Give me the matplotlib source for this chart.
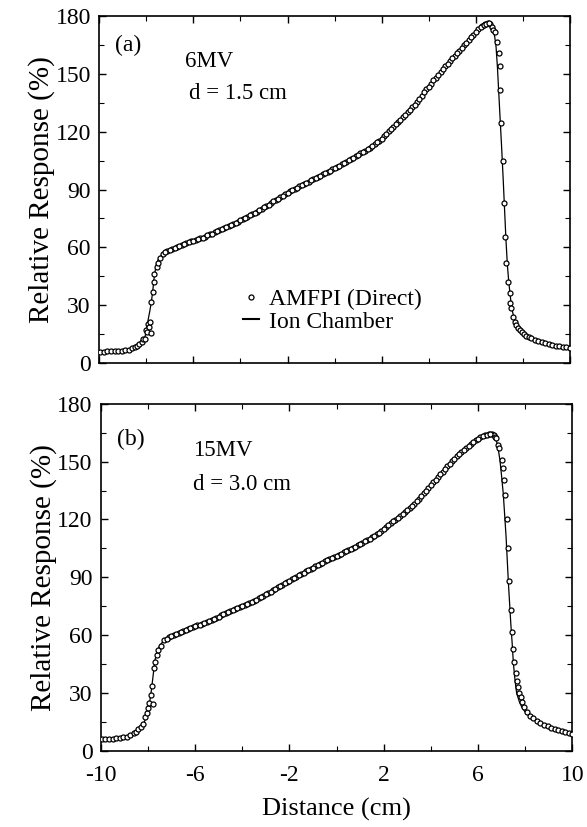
import numpy as np
import matplotlib
matplotlib.use("Agg")
import matplotlib.pyplot as plt
from matplotlib.lines import Line2D
from matplotlib.ticker import MultipleLocator

# ---------------- data: (a) 6MV, d = 1.5 cm ----------------
ion_x_a = [-10.0, -9.5, -9.0, -8.7, -8.5, -8.3, -8.15, -8.05, -7.98, -7.92, -7.85, -7.78,
           -7.72, -7.68, -7.62, -7.56, -7.48, -7.4, -7.2, -7.0, -6.6, -6.15, -5.5, -4.75,
           -4.0, -3.3, -2.3, -1.9, -0.9, 0.5, 1.35, 1.92, 2.63, 3.33, 4.04, 4.75, 5.46,
           5.88, 6.04, 6.24, 6.4, 6.52, 6.64, 6.73, 6.8, 6.86, 6.92, 6.98, 7.04, 7.1,
           7.16, 7.22, 7.28, 7.34, 7.4, 7.48, 7.56, 7.66, 7.8, 7.95, 8.2, 8.45, 8.8,
           9.15, 9.5, 10.0]
ion_y_a = [5.8, 6.0, 6.3, 7.2, 8.0, 9.3, 11.5, 13.8, 18.0, 22.5, 27.0, 32.0,
           38.0, 43.0, 48.0, 51.7, 54.0, 55.3, 57.3, 58.6, 60.5, 62.9, 65.5, 69.9,
           74.4, 78.8, 86.3, 89.0, 95.3, 104.4, 110.5, 115.7, 124.3, 133.0, 144.2, 154.6, 164.5,
           170.0, 172.5, 175.2, 176.0, 176.2, 175.0, 172.7, 169.5, 164.0, 153.0, 139.0, 125.0, 111.0,
           96.0, 80.0, 64.0, 51.0, 42.0, 33.0, 26.5, 22.0, 18.5, 16.0, 13.5, 11.9, 10.5,
           9.4, 8.7, 8.0]

amfpi_x_a = [-9.95, -9.8, -9.65, -9.5, -9.35, -9.2, -9.05, -8.9, -8.75, -8.6, -8.5, -8.4,
             -8.3, -8.2, -8.12, -8.05, -8.01, -7.96, -7.92, -7.88, -7.85, -7.78, -7.78, -7.73,
             -7.68, -7.66, -7.56, -7.49, -7.42, -7.3,
             -7.1, -6.9, -6.7, -6.5, -6.3, -6.1, -5.9, -5.7, -5.5, -5.3, -5.1, -4.9, -4.7,
             -4.5, -4.3, -4.1, -3.9, -3.7, -3.5, -3.3, -3.1, -2.9, -2.7, -2.5, -2.3, -2.1,
             -1.9, -1.7, -1.5, -1.3, -1.1, -0.9, -0.7, -0.5, -0.3, -0.1, 0.1, 0.3, 0.5,
             0.7, 0.9, 1.1, 1.3, 1.5, 1.7, 1.9, 2.1, 2.3, 2.5, 2.7, 2.9, 3.1, 3.3, 3.5,
             3.7, 3.9, 4.1, 4.3, 4.5, 4.7, 4.9, 5.1, 5.3, 5.5, 5.7, 5.9, 6.1, 6.25, 6.4,
             6.5, 6.6, 6.68, 6.74, 6.8, 6.88, 6.97, 7.01, 7.04, 7.08, 7.15, 7.2, 7.23,
             7.3, 7.37, 7.44, 7.47, 7.51, 7.58, 7.65, 7.72, 7.8, 7.88, 7.96, 8.05, 8.15,
             8.25, 8.35, 8.5, 8.65, 8.8, 8.95, 9.1, 9.25, 9.4, 9.55, 9.7, 9.85, 9.98]
amfpi_y_a = [5.8, 5.9, 6.0, 6.0, 6.1, 6.2, 6.3, 6.6, 7.0, 7.6, 8.2, 8.9,
             9.8, 11.0, 12.6, 12.3, 17.0, 16.2, 20.5, 18.8, 21.4, 15.7, 31.8, 37.0,
             42.2, 46.2, 50.0, 51.7, 54.3, 56.6,
             58.0, 59.2, 60.0, 61.1, 62.1, 63.1, 64.0, 64.7, 65.6, 66.7, 67.9, 69.1, 70.1,
             71.1, 72.1, 73.4, 74.7, 76.0, 77.3, 78.6, 80.0, 81.5, 83.0, 84.6, 86.1, 87.6,
             89.0, 90.3, 91.6, 92.8, 94.1, 95.4, 96.6, 97.9, 99.1, 100.4, 101.7, 103.0, 104.4,
             105.8, 107.2, 108.7, 110.1, 111.7, 113.5, 115.4, 117.7, 120.2, 122.7, 125.2, 127.6, 130.0, 132.6, 135.5,
             138.7, 141.9, 145.0, 148.1, 151.0, 153.9, 156.6, 159.4, 162.1, 164.8, 167.5, 170.3, 173.2, 175.0, 175.9,
             176.3, 175.8, 174.5, 173.0, 171.8, 166.3, 161.0, 154.0, 141.6, 124.6, 104.8, 82.8, 65.2,
             51.7, 42.2, 36.2, 31.0, 28.4, 24.0, 21.4, 19.6, 18.2, 17.0, 16.0, 15.0, 14.2,
             13.4, 12.8, 12.0, 11.3, 10.7, 10.2, 9.7, 9.3, 9.0, 8.7, 8.4, 8.1, 7.9]

# in-between detector readings across the field (a)
amfpi_mid_x_a = [-7.2, -7.0, -6.8, -6.6, -6.4, -6.2, -6.0, -5.8, -5.6, -5.4, -5.2, -5.0,
                 -4.8, -4.6, -4.4, -4.2, -4.0, -3.8, -3.6, -3.4, -3.2, -3.0, -2.8, -2.6,
                 -2.4, -2.2, -2.0, -1.8, -1.6, -1.4, -1.2, -1.0, -0.8, -0.6, -0.4, -0.2,
                 0.0, 0.2, 0.4, 0.6, 0.8, 1.0, 1.2, 1.4, 1.6, 1.8, 2.0, 2.2,
                 2.4, 2.6, 2.8, 3.0, 3.2, 3.4, 3.6, 3.8, 4.0, 4.2, 4.4, 4.6,
                 4.8, 5.0, 5.2, 5.4, 5.6, 5.8, 6.0, 6.2, 6.35, 6.45, 6.55]
amfpi_mid_y_a = [57.4, 58.7, 59.5, 60.7, 61.5, 62.7, 63.4, 64.4, 65.0, 66.3, 67.2, 68.6,
                 69.5, 70.7, 71.5, 72.8, 74.0, 75.4, 76.6, 78.0, 79.2, 80.8, 82.2, 83.9,
                 85.3, 86.9, 88.2, 89.7, 90.9, 92.3, 93.4, 94.8, 96.0, 97.2, 98.6, 99.7,
                 101.0, 102.4, 103.6, 105.2, 106.4, 108.0, 109.3, 111.0, 112.5, 114.5, 116.4, 119.0,
                 121.4, 124.0, 126.3, 128.9, 131.2, 134.1, 137.0, 140.4, 143.4, 146.6, 149.5, 152.6,
                 155.2, 158.1, 160.7, 163.6, 166.1, 168.9, 171.7, 174.5, 175.6, 176.0, 176.2]

# ---------------- data: (b) 15MV, d = 3.0 cm ----------------
ion_x_b = [-10.0, -9.5, -9.0, -8.8, -8.6, -8.4, -8.26, -8.15, -8.05, -7.98, -7.91, -7.85,
           -7.8, -7.75, -7.7, -7.63, -7.56, -7.45, -7.35, -7.1, -6.78, -6.21, -5.5, -4.8,
           -4.0, -3.38, -2.4, -1.97, -0.98, 0.43, 1.56, 2.55, 3.26, 3.97, 4.67, 5.3, 5.8,
           6.1, 6.3, 6.5, 6.65, 6.79, 6.87, 6.93, 7.0, 7.07, 7.13, 7.19, 7.24, 7.29,
           7.34, 7.39, 7.45, 7.5, 7.57, 7.64, 7.75, 7.85, 8.0, 8.21, 8.5, 8.77, 9.2,
           9.6, 10.0]
ion_y_b = [5.9, 6.2, 7.0, 7.8, 9.0, 11.0, 12.8, 15.0, 18.0, 22.0, 26.5, 31.5,
           36.7, 42.0, 47.0, 50.5, 53.0, 55.3, 56.8, 59.0, 60.9, 63.5, 66.9, 70.8,
           75.0, 78.5, 85.5, 88.4, 95.2, 103.5, 111.1, 120.3, 127.5, 137.5, 147.2, 155.0, 160.4,
           162.8, 163.8, 164.3, 163.6, 160.4, 155.5, 150.9, 142.5, 133.6, 122.5, 111.1, 99.0, 86.9,
           76.5, 66.1, 55.5, 45.4, 36.5, 29.8, 25.5, 22.8, 20.0, 17.6, 15.2, 13.3, 11.0,
           9.8, 9.0]

amfpi_x_b = [-9.95, -9.8, -9.65, -9.5, -9.35, -9.2, -9.05, -8.9, -8.75, -8.6, -8.5, -8.4,
             -8.3, -8.2, -8.12, -8.05, -7.98, -7.94, -7.8, -7.87, -7.84, -7.74, -7.7, -7.63,
             -7.56, -7.46, -7.3,
             -7.1, -6.9, -6.7, -6.5, -6.3, -6.1, -5.9, -5.7, -5.5, -5.3, -5.1, -4.9, -4.7,
             -4.5, -4.3, -4.1, -3.9, -3.7, -3.5, -3.3, -3.1, -2.9, -2.7, -2.5, -2.3, -2.1,
             -1.9, -1.7, -1.5, -1.3, -1.1, -0.9, -0.7, -0.5, -0.3, -0.1, 0.1, 0.3, 0.5,
             0.7, 0.9, 1.1, 1.3, 1.5, 1.7, 1.9, 2.1, 2.3, 2.5, 2.7, 2.9, 3.1, 3.3, 3.5,
             3.7, 3.9, 4.1, 4.3, 4.5, 4.7, 4.9, 5.1, 5.3, 5.5, 5.7, 5.9, 6.1, 6.3, 6.45,
             6.58, 6.66, 6.72, 6.76, 6.86, 6.9, 7.0, 7.05, 7.12, 7.15, 7.22, 7.29, 7.33,
             7.39, 7.43, 7.5, 7.53, 7.6, 7.64, 7.71, 7.75, 7.81, 7.85, 7.95, 8.07, 8.2,
             8.35, 8.5, 8.65, 8.8, 8.95, 9.1, 9.25, 9.4, 9.55, 9.7, 9.85, 9.98]
amfpi_y_b = [5.9, 6.0, 6.1, 6.2, 6.4, 6.6, 6.9, 7.3, 8.0, 9.0, 9.8, 11.0,
             12.2, 13.8, 17.6, 19.4, 22.0, 24.6, 24.1, 28.9, 33.7, 42.8, 46.2, 49.7,
             52.3, 54.3, 57.2,
             59.0, 60.2, 61.3, 62.3, 63.1, 64.0, 65.0, 65.9, 66.9, 68.0, 69.1, 70.2, 71.3,
             72.4, 73.4, 74.5, 75.5, 76.6, 77.8, 79.1, 80.5, 81.9, 83.3, 84.8, 86.2, 87.5,
             88.9, 90.3, 91.7, 93.1, 94.4, 95.7, 97.0, 98.2, 99.4, 100.6, 101.8, 102.9, 104.0,
             105.3, 106.6, 108.0, 109.3, 110.7, 112.3, 114.0, 115.9, 118.0, 119.9, 121.8, 123.8, 125.9, 128.1, 130.8,
             133.6, 136.5, 139.3, 142.1, 144.9, 147.6, 150.3, 152.8, 155.1, 157.3, 159.4, 161.2, 162.8, 163.8, 164.3,
             164.3, 163.7, 163.0, 162.1, 158.6, 157.0, 150.9, 146.5, 140.5, 132.7, 120.1, 105.0, 88.1,
             73.0, 61.8, 52.6, 46.2, 40.2, 36.3, 33.2, 30.1, 27.7, 25.4, 22.8, 20.2, 18.2,
             16.8, 15.6, 14.5, 13.5, 12.6, 11.9, 11.2, 10.6, 10.1, 9.6, 9.2, 8.9]

amfpi_mid_x_b = [-7.2, -7.0, -6.8, -6.6, -6.4, -6.2, -6.0, -5.8, -5.6, -5.4, -5.2, -5.0,
                 -4.8, -4.6, -4.4, -4.2, -4.0, -3.8, -3.6, -3.4, -3.2, -3.0, -2.8, -2.6,
                 -2.4, -2.2, -2.0, -1.8, -1.6, -1.4, -1.2, -1.0, -0.8, -0.6, -0.4, -0.2,
                 0.0, 0.2, 0.4, 0.6, 0.8, 1.0, 1.2, 1.4, 1.6, 1.8, 2.0, 2.2,
                 2.4, 2.6, 2.8, 3.0, 3.2, 3.4, 3.6, 3.8, 4.0, 4.2, 4.4, 4.6,
                 4.8, 5.0, 5.2, 5.4, 5.6, 5.8, 6.0, 6.2, 6.38, 6.52]
amfpi_mid_y_b = [58.0, 59.7, 60.7, 61.8, 62.7, 63.6, 64.5, 65.4, 66.4, 67.5, 68.5, 69.6,
                 70.8, 71.8, 72.9, 74.0, 75.0, 76.0, 77.2, 78.4, 79.8, 81.2, 82.6, 84.0,
                 85.5, 86.8, 88.2, 89.6, 91.0, 92.4, 93.7, 95.0, 96.4, 97.6, 98.8, 100.0,
                 101.2, 102.3, 103.4, 104.6, 105.9, 107.3, 108.6, 110.0, 111.5, 113.1, 115.0, 116.9,
                 119.0, 120.8, 122.8, 124.8, 127.0, 129.4, 132.2, 135.0, 137.9, 140.7, 143.5, 146.2,
                 149.0, 151.5, 154.0, 156.2, 158.4, 160.3, 162.0, 163.3, 164.1, 164.4]

panel_labels = ["(a)", "(b)"]
energy_labels = ["6MV", "15MV"]
depth_labels = ["d = 1.5 cm", "d = 3.0 cm"]
x_ticks = [-10, -6, -2, 2, 6, 10]
y_ticks = [0, 30, 60, 90, 120, 150, 180]

plt.rcParams["font.family"] = ["Liberation Serif", "DejaVu Serif"]
plt.rcParams["axes.unicode_minus"] = False

fig = plt.figure(figsize=(5.87, 8.27), dpi=100)
ax_a = fig.add_axes([0.169, 0.561, 0.802, 0.4196])
ax_b = fig.add_axes([0.1716, 0.0923, 0.8034, 0.4193])

ion_sets = [(ion_x_a, ion_y_a), (ion_x_b, ion_y_b)]
amfpi_sets = [(amfpi_x_a + amfpi_mid_x_a, amfpi_y_a + amfpi_mid_y_a),
              (amfpi_x_b + amfpi_mid_x_b, amfpi_y_b + amfpi_mid_y_b)]
txt_pos = [
    {"p": (0.033, 0.916), "e": (0.182, 0.869), "d": (0.190, 0.778)},
    {"p": (0.034, 0.898), "e": (0.196, 0.867), "d": (0.195, 0.769)},
]
mk = dict(linestyle="none", marker="o", markersize=3.6, markerfacecolor="white",
          markeredgecolor="black", markeredgewidth=0.9)

for i, ax in enumerate([ax_a, ax_b]):
    ix, iy = ion_sets[i]
    mx, my = amfpi_sets[i]
    ax.plot(ix, iy, color="black", linewidth=0.9, zorder=2)
    ax.plot(mx, my, zorder=3, **mk)

    ax.set_xlim(-10, 10)
    ax.set_ylim(0, 180)
    ax.set_xticks(x_ticks)
    ax.set_yticks(y_ticks)
    ax.xaxis.set_minor_locator(MultipleLocator(2))
    ax.yaxis.set_minor_locator(MultipleLocator(15))
    ax.tick_params(which="both", direction="in", top=True, right=True, labelsize=17)
    ax.tick_params(which="major", length=5, width=1.0)
    ax.tick_params(which="minor", length=3.5, width=0.8)
    ax.tick_params(axis="y", pad=6)
    ax.tick_params(axis="x", pad=10)
    for sp in ax.spines.values():
        sp.set_linewidth(1.2)
    ax.set_ylabel("Relative Response (%)", fontsize=21, labelpad=0)

    tp = txt_pos[i]
    ax.text(*tp["p"], panel_labels[i], transform=ax.transAxes, fontsize=17, va="center", ha="left")
    ax.text(*tp["e"], energy_labels[i], transform=ax.transAxes, fontsize=16.5, va="center", ha="left")
    ax.text(*tp["d"], depth_labels[i], transform=ax.transAxes, fontsize=16.5, va="center", ha="left")

ax_a.tick_params(axis="x", labelbottom=False)
ax_b.set_xlabel("Distance (cm)", fontsize=19, labelpad=9)

handles = [Line2D([], [], **mk), Line2D([], [], color="black", linewidth=1.5)]
ax_a.legend(handles, ["AMFPI (Direct)", "Ion Chamber"], loc="lower left",
            bbox_to_anchor=(0.27, 0.04), frameon=False, fontsize=17,
            handlelength=0.7, handletextpad=0.4, labelspacing=0.05, borderpad=0.2)

plt.savefig("out.png", dpi=100, facecolor="white")
